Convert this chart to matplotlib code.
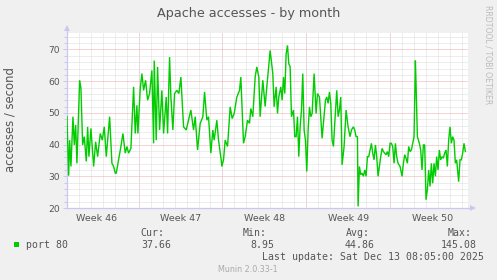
import matplotlib
matplotlib.use("Agg")
import matplotlib.pyplot as plt
from matplotlib.ticker import MultipleLocator, FixedLocator, NullFormatter, FixedFormatter

# ---- data (hours relative to the start of the last week, accesses/second) ----
hours = [
    -647.3, -643.9, -641.9, -639.3, -635.3, -632.6, -629.9, -627.3, -621.9, -619.3,
    -615.9, -612.6, -608.6, -605.9, -603.3, -599.3, -593.9, -589.9, -585.9, -580.6,
    -576.6, -572.6, -568.6, -561.9, -557.3, -553.9, -550.6, -548.6, -543.9, -539.3,
    -535.3, -530.6, -527.3, -523.9, -519.3, -513.9, -510.6, -507.3, -505.3, -500.6,
    -497.3, -493.9, -489.9, -485.9, -481.9, -477.3, -473.9, -472.6, -468.6, -465.9,
    -461.9, -457.3, -453.9, -448.6, -445.9, -441.9, -439.3, -435.3, -431.9, -427.3,
    -423.3, -419.3, -413.9, -408.6, -399.3, -393.9, -390.6, -385.9, -380.6, -375.3,
    -371.9, -367.3, -363.9, -359.3, -355.3, -352.6, -347.3, -343.9, -338.6, -337.3,
    -333.9, -330.6, -325.9, -320.6, -316.6, -312.6, -307.3, -301.9, -299.3, -293.9,
    -290.6, -285.9, -281.9, -279.3, -275.3, -270.6, -267.3, -263.3, -260.6, -255.3,
    -250.6, -247.3,
    -240.6, -235.3, -232.6, -228.6, -225.9, -223.3, -219.3, -216.6, -213.9, -211.3,
    -208.6, -205.9, -203.3, -200.6, -197.9, -193.9, -191.3, -188.6, -185.9, -183.3,
    -180.6, -177.9, -175.3, -172.6, -169.9, -167.3, -164.6, -161.9, -159.3, -156.6,
    -152.6, -148.6, -145.9, -141.9, -139.3, -136.6, -133.9, -129.9, -127.3, -124.6,
    -121.9, -119.3, -116.6, -113.9, -111.3, -107.3, -104.6, -101.9, -99.3, -96.6,
    -92.6, -88.6, -84.6, -80.6, -77.9, -73.9, -71.3, -68.6, -65.9, -64.6,
    -61.9, -59.3, -56.6, -53.9, -51.3, -48.6, -45.9, -43.3, -40.6, -37.9,
    -35.3, -32.6, -29.9, -27.3, -24.6, -21.9, -19.3, -16.6, -13.9, -11.3,
    -8.6, -5.9, -3.3, -0.6, 2.1, 4.7, 7.4, 10.1, 12.7, 15.4,
    19.4, 23.4, 26.1, 28.7, 31.4, 34.1, 36.7, 39.4, 42.1, 44.7,
    47.4, 50.1, 51.4, 54.1, 58.1, 60.7, 63.4, 66.1, 68.7, 71.4,
    74.1, 76.7, 79.4, 82.1, 84.7, 87.4, 90.1, 92.7, 95.4, 98.1,
    100.7, 103.4, 106.1, 108.7, 111.4, 114.1, 116.7, 119.4, 122.1, 124.7,
    127.4, 130.1, 132.7, 136.7, 139.4, 142.1, 144.7, 147.4, 150.1,
]
values = [
    48.8, 30.2, 41.4, 33.1, 48.8, 39.9, 46.2, 34.1, 60.3, 57.7,
    39.9, 42.5, 34.7, 45.6, 36.2, 45.1, 33.1, 40.9, 36.2, 43.5,
    41.4, 45.6, 36.2, 48.8, 34.1, 33.1, 31.0, 31.0, 35.2, 39.4,
    43.5, 37.3, 39.4, 37.3, 38.8, 58.2, 43.5, 52.4, 43.5, 57.7,
    62.4, 57.1, 60.3, 54.0, 56.1, 63.4, 40.4, 66.5, 41.4, 64.5,
    44.6, 57.1, 43.5, 55.0, 43.5, 67.6, 55.0, 44.6, 56.1, 57.1,
    56.1, 61.3, 45.6, 44.6, 50.9, 44.6, 48.8, 38.3, 46.7, 48.8,
    56.6, 47.7, 48.8, 37.3, 44.6, 41.4, 47.7, 41.4, 35.2, 33.1,
    35.2, 41.4, 39.4, 51.9, 48.2, 49.8, 55.0, 57.1, 61.3, 40.4,
    42.5, 47.7, 46.7, 51.4, 48.8, 61.3, 64.5, 61.3, 48.8, 60.3,
    52.0, 58.2,
    69.7, 62.4, 51.9, 58.2, 49.8, 55.0, 58.2, 54.0, 61.3, 56.1,
    68.6, 71.3, 65.5, 64.5, 48.8, 50.9, 42.5, 42.5, 48.8, 36.2,
    45.6, 50.9, 62.4, 44.6, 41.4, 31.5, 44.6, 51.9, 48.8, 49.8,
    62.4, 49.8, 56.1, 55.0, 48.8, 42.0, 46.7, 54.0, 55.0, 53.0,
    56.6, 53.0, 41.4, 39.4, 46.7, 57.1, 48.8, 50.9, 55.0, 33.6,
    39.4, 50.9, 45.6, 42.5, 44.6, 45.6, 44.6, 42.5, 42.5, 20.5,
    33.1, 30.5, 31.0, 30.0, 32.0, 30.0, 36.2, 36.2, 38.3, 40.4,
    37.3, 35.2, 39.9, 36.2, 30.0, 33.1, 36.2, 38.8, 37.8, 37.3,
    36.8, 37.8, 36.2, 40.4, 40.4, 39.4, 34.1, 40.4, 36.2, 34.1,
    33.1, 30.0, 34.1, 36.8, 35.7, 34.1, 39.4, 37.8, 38.3, 40.4,
    42.5, 66.5, 59.2, 42.5, 40.4, 38.3, 32.0, 39.9, 39.9, 22.6,
    25.8, 32.0, 26.8, 34.1, 27.8, 34.1, 30.0, 36.2, 32.0, 38.3,
    35.2, 36.2, 35.7, 37.3, 38.3, 33.1, 41.4, 45.6, 40.4, 42.5,
    41.4, 34.1, 35.2, 28.3, 35.2, 35.2, 37.3, 40.4, 37.8,
]

week_starts = [-504, -336, -168, 0]
week_centers = [-588, -420, -252, -84, 84]
week_labels = ["Week 46", "Week 47", "Week 48", "Week 49", "Week 50"]

series_name = "port 80"
stat_names = ["Cur:", "Min:", "Avg:", "Max:"]
stat_values = ["37.66", "8.95", "44.86", "145.08"]
last_update = "Last update: Sat Dec 13 08:05:00 2025"
title = "Apache accesses - by month"
ylabel = "accesses / second"

# ---- figure ----
W, H = 497, 280
BG = "#F0F0F0"
TXT = "#555555"
AXC = "#C8C8F0"
GREEN = "#00CC00"

fig = plt.figure(figsize=(W / 100, H / 100), dpi=100, facecolor=BG)
ax = fig.add_axes([67 / W, 72 / H, 401 / W, 175 / H])
ax.set_facecolor("white")

ax.set_xlim(-647.2, 155.4)
ax.set_ylim(20, 75.2)

# grids
ax.xaxis.set_minor_locator(MultipleLocator(24))
ax.yaxis.set_major_locator(MultipleLocator(10))
ax.yaxis.set_minor_locator(MultipleLocator(2))
ax.grid(which="minor", color="#DCDCDC", linestyle=(0, (1, 1)), linewidth=0.72, zorder=0)
ax.grid(which="major", axis="y", color="#F0A8A8", linestyle=(0, (1, 1)), linewidth=0.72, zorder=0.5)
for ws in week_starts:
    ax.axvline(ws, color="#F0A8A8", linestyle=(0, (1, 1)), linewidth=0.72, zorder=0.5)

ax.xaxis.set_major_locator(FixedLocator(week_centers))
ax.xaxis.set_major_formatter(FixedFormatter(week_labels))
ax.xaxis.set_minor_formatter(NullFormatter())
ax.tick_params(axis="x", which="both", length=0, labelsize=6.8, labelcolor=TXT, pad=4)
ax.tick_params(axis="y", which="major", length=3, width=0.72, color=AXC, labelsize=6.6,
               labelcolor=TXT, pad=2)
ax.tick_params(axis="y", which="minor", length=2, width=0.72, color=AXC)

for s in ("top", "right"):
    ax.spines[s].set_visible(False)
for s in ("left", "bottom"):
    ax.spines[s].set_color(AXC)
    ax.spines[s].set_linewidth(0.9)

# axis arrows
ax.plot([0], [1.03], marker="^", markersize=4, color=AXC, transform=ax.transAxes,
        clip_on=False, markeredgewidth=0)
ax.plot([0, 0], [1.0, 1.02], color=AXC, lw=0.9, transform=ax.transAxes, clip_on=False)
ax.plot([1.012], [0], marker=">", markersize=4, color=AXC, transform=ax.transAxes,
        clip_on=False, markeredgewidth=0)
ax.plot([1.0, 1.008], [0, 0], color=AXC, lw=0.9, transform=ax.transAxes, clip_on=False)

# data line
ax.plot(hours, values, color=GREEN, linewidth=1.0, zorder=3, solid_joinstyle="miter")

# ---- texts ----
def fx(px):
    return px / W

def fy(py):
    return 1 - py / H

fig.text(fx(248.5), fy(14), title, ha="center", va="center", fontsize=9.2, color=TXT)
fig.text(fx(10), fy(119.5), ylabel, ha="center", va="center", rotation=90,
         fontsize=8.4, color=TXT)
fig.text(fx(488), fy(5), "RRDTOOL / TOBI OETIKER", ha="center", va="top", rotation=270,
         fontsize=5.6, color="#BBBBBB")

mono = "DejaVu Sans Mono"
fs = 7.1
fig.add_artist(plt.Rectangle((fx(14), fy(246.5)), 5 / W, 5 / H, transform=fig.transFigure,
                             facecolor=GREEN, edgecolor="none"))
fig.text(fx(26), fy(245.5), series_name, family=mono, fontsize=fs, color=TXT, va="center")
name_x = [140, 243, 346, 448]
val_x = [141, 250, 345, 441]
for nm, vl, nx, vx in zip(stat_names, stat_values, name_x, val_x):
    fig.text(fx(nx), fy(233.5), nm, family=mono, fontsize=fs, color=TXT, va="center")
    fig.text(fx(vx), fy(245.5), vl, family=mono, fontsize=fs, color=TXT, va="center")
fig.text(fx(262), fy(257.5), last_update, family=mono, fontsize=fs, color=TXT, va="center")
fig.text(fx(248), fy(269), "Munin 2.0.33-1", ha="center", va="center", fontsize=5.8,
         color="#AAAAAA")

fig.savefig("out.png", dpi=100, facecolor=BG)
